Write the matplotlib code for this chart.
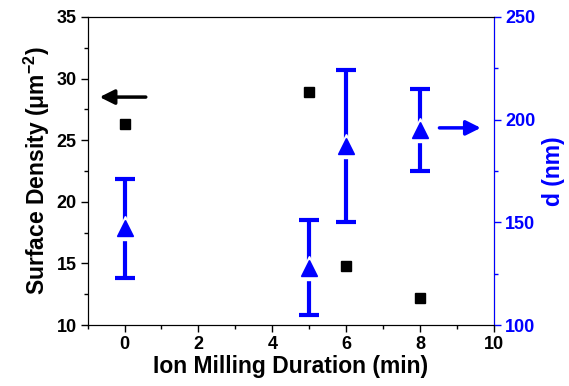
import matplotlib
matplotlib.use('Agg')
import matplotlib.pyplot as plt
from matplotlib.ticker import MultipleLocator

plt.rcParams['font.family'] = ['Liberation Sans', 'DejaVu Sans']
plt.rcParams['font.weight'] = 'bold'
plt.rcParams['mathtext.fontset'] = 'custom'
plt.rcParams['mathtext.rm'] = 'Liberation Sans:bold'
plt.rcParams['mathtext.it'] = 'Liberation Sans:bold'
plt.rcParams['mathtext.bf'] = 'Liberation Sans:bold'

# 数据
duration = [0, 5, 6, 8]
surface_density = [26.3, 28.9, 14.8, 12.2]
d_nm = [147, 128, 187, 195]
d_err = [24, 23, 37, 20]

BLUE = '#0000FF'

fig = plt.figure(figsize=(5.69, 3.86), dpi=100)
ax = fig.add_axes([0.154, 0.158, 0.714, 0.798])
ax2 = ax.twinx()

# 左轴：表面密度
ax.plot(duration, surface_density, 's', color='black', markersize=7.5, zorder=3)
ax.set_xlim(-1, 10)
ax.set_ylim(10, 35)
ax.xaxis.set_major_locator(MultipleLocator(2))
ax.xaxis.set_minor_locator(MultipleLocator(1))
ax.yaxis.set_major_locator(MultipleLocator(5))
ax.yaxis.set_minor_locator(MultipleLocator(2.5))
ax.tick_params(axis='both', which='major', direction='out', length=5, width=1,
               labelsize=13, top=False, right=False, pad=3)
ax.tick_params(axis='both', which='minor', direction='out', length=3, width=1,
               top=False, right=False)
ax.set_xlabel('Ion Milling Duration (min)', fontsize=16.5, fontweight='bold', labelpad=1)
ax.set_ylabel(r'Surface Density ($\mathregular{\mu m^{-2}}$)', fontsize=16.5,
              fontweight='bold', labelpad=3)

# 右轴：d (nm)
ax2.errorbar(duration, d_nm, yerr=d_err, fmt='none', ecolor=BLUE, elinewidth=3,
             capsize=7.5, capthick=3, zorder=2)
ax2.plot(duration, d_nm, '^', color='white', markersize=17, zorder=3)
ax2.plot(duration, d_nm, '^', color=BLUE, markersize=11, zorder=4)
ax2.set_ylim(100, 250)
ax2.yaxis.set_major_locator(MultipleLocator(50))
ax2.yaxis.set_minor_locator(MultipleLocator(25))
ax2.tick_params(axis='y', which='major', direction='out', length=5, width=1,
                labelsize=13, colors=BLUE, pad=3)
ax2.tick_params(axis='y', which='minor', direction='out', length=3, width=1, colors=BLUE)
ax2.set_ylabel('d (nm)', fontsize=16.5, fontweight='bold', color=BLUE, labelpad=5)
ax2.spines['right'].set_color(BLUE)
for lbl in ax.get_xticklabels() + ax.get_yticklabels() + ax2.get_yticklabels():
    lbl.set_fontweight('bold')

# 指示箭头
ax.annotate('', xy=(-0.75, 28.5), xytext=(0.65, 28.5),
            arrowprops=dict(arrowstyle='-|>', color='black', lw=2.5,
                            mutation_scale=22))
ax2.annotate('', xy=(9.72, 196), xytext=(8.45, 196),
             arrowprops=dict(arrowstyle='-|>', color=BLUE, lw=2.5,
                             mutation_scale=22))

plt.savefig('out.png', dpi=100, facecolor='white')
plt.close()
